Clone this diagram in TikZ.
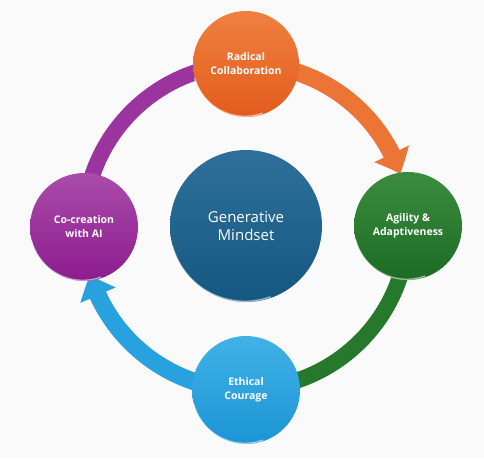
\documentclass[tikz,border=0pt]{standalone}
\usepackage{fontspec}
\setmainfont{Open Sans}
\usetikzlibrary{arrows.meta,bending}
\definecolor{bg}{HTML}{FAFAFA}
\definecolor{orT}{HTML}{F08040}
\definecolor{orB}{HTML}{E25C1C}
\definecolor{orL}{HTML}{EC7434}
\definecolor{grT}{HTML}{3B8C40}
\definecolor{grB}{HTML}{1D6B24}
\definecolor{grL}{HTML}{25782C}
\definecolor{blT}{HTML}{40B2E6}
\definecolor{blB}{HTML}{1C94D4}
\definecolor{blL}{HTML}{28A2DE}
\definecolor{puT}{HTML}{AA4CAA}
\definecolor{puB}{HTML}{8C1C8E}
\definecolor{puL}{HTML}{9C34A0}
\definecolor{ceT}{HTML}{2E7099}
\definecolor{ceB}{HTML}{145882}
\tikzset{
  ball/.style={circle, inner sep=0pt, text=white, align=center,
    font=\bfseries\fontsize{10.5}{14}\selectfont},
  band/.style={line width=16pt},
  wideband/.style={line width=17.5pt},
  tipshape/.style={-{Triangle[width=37pt,length=22pt,bend]}},
  rim/.style={white, opacity=0.55, line width=1.4pt},
}
\begin{document}
\begin{tikzpicture}[x=1pt,y=-1pt]
\fill[bg] (0,0) rectangle (484,458);
\useasboundingbox (0,0) rectangle (484,458);
\path (246,64) coordinate (pT) (408,226) coordinate (pR) (246,390) coordinate (pB) (84,227) coordinate (pL);
% bands
\draw[band, draw=puL] (pL) arc[start angle=180, end angle=90, radius=163pt];
\draw[band, draw=grL] (pR) arc[start angle=0, end angle=-90, radius=163pt];
\draw[wideband, draw=orL, tipshape] (pT) arc[start angle=90, end angle=19, radius=163pt];
\draw[wideband, draw=blL, tipshape] (pB) arc[start angle=270, end angle=197, radius=163pt];
% circles
\node[ball, minimum size=152pt, top color=ceT, bottom color=ceB,
  font=\fontsize{15}{18}\selectfont] (mind) at (246,226) {Generative\\Mindset};
\node[ball, minimum size=106pt, top color=orT, bottom color=orB] (collab) at (pT) {Radical\\Collaboration};
\node[ball, minimum size=108pt, top color=grT, bottom color=grB] (agile) at (pR) {Agility \&\\Adaptiveness};
\node[ball, minimum size=108pt, top color=blT, bottom color=blB] (ethic) at (pB) {Ethical\\Courage};
\node[ball, minimum size=108pt, top color=puT, bottom color=puB] (cocreate) at (pL) {Co-creation\\with AI};
% rim highlights
\foreach \n/\r in {mind/75, collab/52, agile/53, ethic/53, cocreate/53}{
  \draw[rim] (\n.195) arc[start angle=195, end angle=290, radius=\r pt];
}
\end{tikzpicture}
\end{document}
